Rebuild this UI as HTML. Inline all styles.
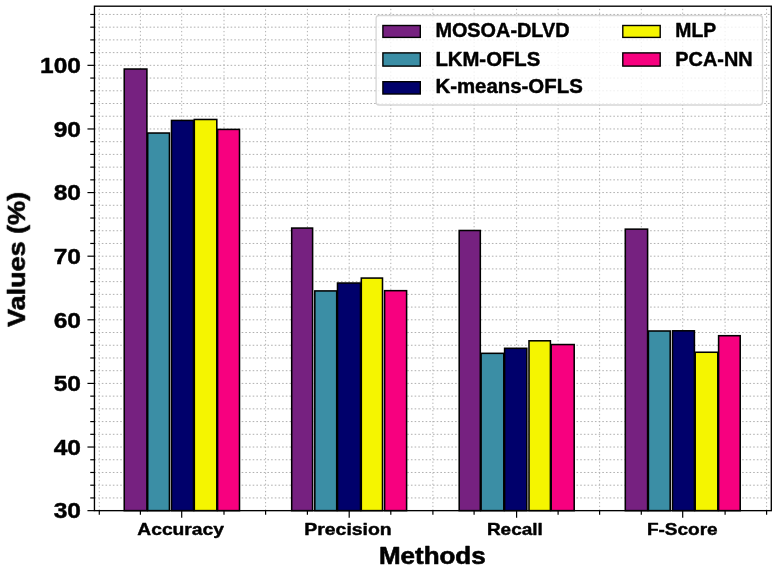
<!DOCTYPE html>
<html><head><meta charset="utf-8"><title>Chart</title>
<style>html,body{margin:0;padding:0;background:#fff;}body{width:779px;height:571px;overflow:hidden;font-family:"Liberation Sans",sans-serif;}svg{display:block}</style>
</head><body>
<svg width="779" height="571" viewBox="0 0 779 571">
<rect x="0" y="0" width="779" height="571" fill="#ffffff"/>
<g stroke="#b0b0b0" stroke-width="1" stroke-dasharray="1.3 2.38" fill="none">
<line x1="99.30" y1="510.65" x2="99.30" y2="6.2"/>
<line x1="140.40" y1="510.65" x2="140.40" y2="6.2"/>
<line x1="181.70" y1="510.65" x2="181.70" y2="6.2"/>
<line x1="224.00" y1="510.65" x2="224.00" y2="6.2"/>
<line x1="265.60" y1="510.65" x2="265.60" y2="6.2"/>
<line x1="307.40" y1="510.65" x2="307.40" y2="6.2"/>
<line x1="349.20" y1="510.65" x2="349.20" y2="6.2"/>
<line x1="390.80" y1="510.65" x2="390.80" y2="6.2"/>
<line x1="432.90" y1="510.65" x2="432.90" y2="6.2"/>
<line x1="474.10" y1="510.65" x2="474.10" y2="6.2"/>
<line x1="516.60" y1="510.65" x2="516.60" y2="6.2"/>
<line x1="558.10" y1="510.65" x2="558.10" y2="6.2"/>
<line x1="599.60" y1="510.65" x2="599.60" y2="6.2"/>
<line x1="641.30" y1="510.65" x2="641.30" y2="6.2"/>
<line x1="682.70" y1="510.65" x2="682.70" y2="6.2"/>
<line x1="725.10" y1="510.65" x2="725.10" y2="6.2"/>
<line x1="766.60" y1="510.65" x2="766.60" y2="6.2"/>
</g>
<g stroke="#b0b0b0" stroke-width="1" stroke-dasharray="1.6 2.08" fill="none">
<line x1="94.45" y1="497.93" x2="771.3" y2="497.93"/>
<line x1="94.45" y1="485.20" x2="771.3" y2="485.20"/>
<line x1="94.45" y1="472.48" x2="771.3" y2="472.48"/>
<line x1="94.45" y1="459.76" x2="771.3" y2="459.76"/>
<line x1="94.45" y1="447.03" x2="771.3" y2="447.03"/>
<line x1="94.45" y1="434.31" x2="771.3" y2="434.31"/>
<line x1="94.45" y1="421.59" x2="771.3" y2="421.59"/>
<line x1="94.45" y1="408.86" x2="771.3" y2="408.86"/>
<line x1="94.45" y1="396.14" x2="771.3" y2="396.14"/>
<line x1="94.45" y1="383.42" x2="771.3" y2="383.42"/>
<line x1="94.45" y1="370.70" x2="771.3" y2="370.70"/>
<line x1="94.45" y1="357.97" x2="771.3" y2="357.97"/>
<line x1="94.45" y1="345.25" x2="771.3" y2="345.25"/>
<line x1="94.45" y1="332.53" x2="771.3" y2="332.53"/>
<line x1="94.45" y1="319.80" x2="771.3" y2="319.80"/>
<line x1="94.45" y1="307.08" x2="771.3" y2="307.08"/>
<line x1="94.45" y1="294.36" x2="771.3" y2="294.36"/>
<line x1="94.45" y1="281.63" x2="771.3" y2="281.63"/>
<line x1="94.45" y1="268.91" x2="771.3" y2="268.91"/>
<line x1="94.45" y1="256.19" x2="771.3" y2="256.19"/>
<line x1="94.45" y1="243.46" x2="771.3" y2="243.46"/>
<line x1="94.45" y1="230.74" x2="771.3" y2="230.74"/>
<line x1="94.45" y1="218.02" x2="771.3" y2="218.02"/>
<line x1="94.45" y1="205.29" x2="771.3" y2="205.29"/>
<line x1="94.45" y1="192.57" x2="771.3" y2="192.57"/>
<line x1="94.45" y1="179.85" x2="771.3" y2="179.85"/>
<line x1="94.45" y1="167.13" x2="771.3" y2="167.13"/>
<line x1="94.45" y1="154.40" x2="771.3" y2="154.40"/>
<line x1="94.45" y1="141.68" x2="771.3" y2="141.68"/>
<line x1="94.45" y1="128.96" x2="771.3" y2="128.96"/>
<line x1="94.45" y1="116.23" x2="771.3" y2="116.23"/>
<line x1="94.45" y1="103.51" x2="771.3" y2="103.51"/>
<line x1="94.45" y1="90.79" x2="771.3" y2="90.79"/>
<line x1="94.45" y1="78.06" x2="771.3" y2="78.06"/>
<line x1="94.45" y1="65.34" x2="771.3" y2="65.34"/>
<line x1="94.45" y1="52.62" x2="771.3" y2="52.62"/>
<line x1="94.45" y1="39.89" x2="771.3" y2="39.89"/>
<line x1="94.45" y1="27.17" x2="771.3" y2="27.17"/>
<line x1="94.45" y1="14.45" x2="771.3" y2="14.45"/>
</g>
<g stroke="#000" stroke-width="1.55" stroke-linejoin="miter">
<rect x="124.25" y="69.03" width="22.65" height="441.62" fill="#762180"/>
<rect x="147.70" y="133.03" width="21.75" height="377.62" fill="#3b8ea5"/>
<rect x="171.50" y="120.43" width="22.00" height="390.22" fill="#00006b"/>
<rect x="194.30" y="119.48" width="22.50" height="391.17" fill="#f5f500"/>
<rect x="217.60" y="129.40" width="21.90" height="381.25" fill="#f7007f"/>
<rect x="291.70" y="228.07" width="20.90" height="282.58" fill="#762180"/>
<rect x="314.80" y="290.92" width="21.90" height="219.73" fill="#3b8ea5"/>
<rect x="337.50" y="283.03" width="23.00" height="227.62" fill="#00006b"/>
<rect x="361.30" y="278.07" width="21.20" height="232.58" fill="#f5f500"/>
<rect x="384.60" y="290.67" width="22.00" height="219.98" fill="#f7007f"/>
<rect x="459.20" y="230.49" width="21.10" height="280.16" fill="#762180"/>
<rect x="481.10" y="353.33" width="22.70" height="157.32" fill="#3b8ea5"/>
<rect x="504.60" y="348.30" width="22.20" height="162.35" fill="#00006b"/>
<rect x="529.00" y="340.80" width="21.40" height="169.85" fill="#f5f500"/>
<rect x="551.20" y="344.55" width="23.00" height="166.10" fill="#f7007f"/>
<rect x="625.30" y="229.15" width="22.30" height="281.50" fill="#762180"/>
<rect x="648.40" y="331.00" width="21.80" height="179.65" fill="#3b8ea5"/>
<rect x="672.50" y="330.81" width="21.90" height="179.84" fill="#00006b"/>
<rect x="695.20" y="352.25" width="22.60" height="158.40" fill="#f5f500"/>
<rect x="718.60" y="335.71" width="21.60" height="174.94" fill="#f7007f"/>
</g>
<g stroke="#000" stroke-width="1.2" fill="none">
<line x1="99.30" y1="510.65" x2="99.30" y2="514.85"/>
<line x1="140.40" y1="510.65" x2="140.40" y2="514.85"/>
<line x1="181.70" y1="510.65" x2="181.70" y2="517.65"/>
<line x1="224.00" y1="510.65" x2="224.00" y2="514.85"/>
<line x1="265.60" y1="510.65" x2="265.60" y2="514.85"/>
<line x1="307.40" y1="510.65" x2="307.40" y2="514.85"/>
<line x1="349.20" y1="510.65" x2="349.20" y2="517.65"/>
<line x1="390.80" y1="510.65" x2="390.80" y2="514.85"/>
<line x1="432.90" y1="510.65" x2="432.90" y2="514.85"/>
<line x1="474.10" y1="510.65" x2="474.10" y2="514.85"/>
<line x1="516.60" y1="510.65" x2="516.60" y2="517.65"/>
<line x1="558.10" y1="510.65" x2="558.10" y2="514.85"/>
<line x1="599.60" y1="510.65" x2="599.60" y2="514.85"/>
<line x1="641.30" y1="510.65" x2="641.30" y2="514.85"/>
<line x1="682.70" y1="510.65" x2="682.70" y2="517.65"/>
<line x1="725.10" y1="510.65" x2="725.10" y2="514.85"/>
<line x1="766.60" y1="510.65" x2="766.60" y2="514.85"/>
<line x1="94.45" y1="510.65" x2="87.45" y2="510.65"/>
<line x1="94.45" y1="497.93" x2="90.25" y2="497.93"/>
<line x1="94.45" y1="485.20" x2="90.25" y2="485.20"/>
<line x1="94.45" y1="472.48" x2="90.25" y2="472.48"/>
<line x1="94.45" y1="459.76" x2="90.25" y2="459.76"/>
<line x1="94.45" y1="447.03" x2="87.45" y2="447.03"/>
<line x1="94.45" y1="434.31" x2="90.25" y2="434.31"/>
<line x1="94.45" y1="421.59" x2="90.25" y2="421.59"/>
<line x1="94.45" y1="408.86" x2="90.25" y2="408.86"/>
<line x1="94.45" y1="396.14" x2="90.25" y2="396.14"/>
<line x1="94.45" y1="383.42" x2="87.45" y2="383.42"/>
<line x1="94.45" y1="370.70" x2="90.25" y2="370.70"/>
<line x1="94.45" y1="357.97" x2="90.25" y2="357.97"/>
<line x1="94.45" y1="345.25" x2="90.25" y2="345.25"/>
<line x1="94.45" y1="332.53" x2="90.25" y2="332.53"/>
<line x1="94.45" y1="319.80" x2="87.45" y2="319.80"/>
<line x1="94.45" y1="307.08" x2="90.25" y2="307.08"/>
<line x1="94.45" y1="294.36" x2="90.25" y2="294.36"/>
<line x1="94.45" y1="281.63" x2="90.25" y2="281.63"/>
<line x1="94.45" y1="268.91" x2="90.25" y2="268.91"/>
<line x1="94.45" y1="256.19" x2="87.45" y2="256.19"/>
<line x1="94.45" y1="243.46" x2="90.25" y2="243.46"/>
<line x1="94.45" y1="230.74" x2="90.25" y2="230.74"/>
<line x1="94.45" y1="218.02" x2="90.25" y2="218.02"/>
<line x1="94.45" y1="205.29" x2="90.25" y2="205.29"/>
<line x1="94.45" y1="192.57" x2="87.45" y2="192.57"/>
<line x1="94.45" y1="179.85" x2="90.25" y2="179.85"/>
<line x1="94.45" y1="167.13" x2="90.25" y2="167.13"/>
<line x1="94.45" y1="154.40" x2="90.25" y2="154.40"/>
<line x1="94.45" y1="141.68" x2="90.25" y2="141.68"/>
<line x1="94.45" y1="128.96" x2="87.45" y2="128.96"/>
<line x1="94.45" y1="116.23" x2="90.25" y2="116.23"/>
<line x1="94.45" y1="103.51" x2="90.25" y2="103.51"/>
<line x1="94.45" y1="90.79" x2="90.25" y2="90.79"/>
<line x1="94.45" y1="78.06" x2="90.25" y2="78.06"/>
<line x1="94.45" y1="65.34" x2="87.45" y2="65.34"/>
<line x1="94.45" y1="52.62" x2="90.25" y2="52.62"/>
<line x1="94.45" y1="39.89" x2="90.25" y2="39.89"/>
<line x1="94.45" y1="27.17" x2="90.25" y2="27.17"/>
<line x1="94.45" y1="14.45" x2="90.25" y2="14.45"/>
</g>
<rect x="94.45" y="6.2" width="676.85" height="504.45" fill="none" stroke="#000" stroke-width="1.35"/>
<g opacity="0.999">
<text x="81.0" y="518.40" font-size="22" font-family="Liberation Sans, sans-serif" font-weight="bold" stroke="#000" stroke-width="0.45" stroke-linejoin="round" text-anchor="end" textLength="27.3" lengthAdjust="spacingAndGlyphs">30</text>
<text x="81.0" y="454.78" font-size="22" font-family="Liberation Sans, sans-serif" font-weight="bold" stroke="#000" stroke-width="0.45" stroke-linejoin="round" text-anchor="end" textLength="27.3" lengthAdjust="spacingAndGlyphs">40</text>
<text x="81.0" y="391.17" font-size="22" font-family="Liberation Sans, sans-serif" font-weight="bold" stroke="#000" stroke-width="0.45" stroke-linejoin="round" text-anchor="end" textLength="27.3" lengthAdjust="spacingAndGlyphs">50</text>
<text x="81.0" y="327.55" font-size="22" font-family="Liberation Sans, sans-serif" font-weight="bold" stroke="#000" stroke-width="0.45" stroke-linejoin="round" text-anchor="end" textLength="27.3" lengthAdjust="spacingAndGlyphs">60</text>
<text x="81.0" y="263.94" font-size="22" font-family="Liberation Sans, sans-serif" font-weight="bold" stroke="#000" stroke-width="0.45" stroke-linejoin="round" text-anchor="end" textLength="27.3" lengthAdjust="spacingAndGlyphs">70</text>
<text x="81.0" y="200.32" font-size="22" font-family="Liberation Sans, sans-serif" font-weight="bold" stroke="#000" stroke-width="0.45" stroke-linejoin="round" text-anchor="end" textLength="27.3" lengthAdjust="spacingAndGlyphs">80</text>
<text x="81.0" y="136.71" font-size="22" font-family="Liberation Sans, sans-serif" font-weight="bold" stroke="#000" stroke-width="0.45" stroke-linejoin="round" text-anchor="end" textLength="27.3" lengthAdjust="spacingAndGlyphs">90</text>
<text x="81.0" y="73.09" font-size="22" font-family="Liberation Sans, sans-serif" font-weight="bold" stroke="#000" stroke-width="0.45" stroke-linejoin="round" text-anchor="end" textLength="40.9" lengthAdjust="spacingAndGlyphs">100</text>
<text x="137.3" y="535.4" font-size="17.1" font-family="Liberation Sans, sans-serif" font-weight="bold" stroke="#000" stroke-width="0.45" stroke-linejoin="round" textLength="86.7" lengthAdjust="spacingAndGlyphs">Accuracy</text>
<text x="304.3" y="535.4" font-size="17.1" font-family="Liberation Sans, sans-serif" font-weight="bold" stroke="#000" stroke-width="0.45" stroke-linejoin="round" textLength="87.4" lengthAdjust="spacingAndGlyphs">Precision</text>
<text x="486.9" y="535.4" font-size="17.1" font-family="Liberation Sans, sans-serif" font-weight="bold" stroke="#000" stroke-width="0.45" stroke-linejoin="round" textLength="56.0" lengthAdjust="spacingAndGlyphs">Recall</text>
<text x="646.9" y="535.4" font-size="17.1" font-family="Liberation Sans, sans-serif" font-weight="bold" stroke="#000" stroke-width="0.45" stroke-linejoin="round" textLength="70.8" lengthAdjust="spacingAndGlyphs">F-Score</text>
<text x="378.9" y="563.9" font-size="23.4" font-family="Liberation Sans, sans-serif" font-weight="bold" stroke="#000" stroke-width="0.6" stroke-linejoin="round" textLength="106.8" lengthAdjust="spacingAndGlyphs">Methods</text>
<text transform="translate(24.9,326.9) rotate(-90)" font-size="23.4" font-family="Liberation Sans, sans-serif" font-weight="bold" stroke="#000" stroke-width="0.6" stroke-linejoin="round" textLength="135.0" lengthAdjust="spacingAndGlyphs">Values (%)</text>
<rect x="376.1" y="15.5" width="386.4" height="89.5" rx="3" ry="3" fill="#ffffff" fill-opacity="0.8" stroke="#cccccc" stroke-opacity="0.8" stroke-width="1.3"/>
<rect x="382.9" y="25.5" width="37.4" height="11.9" fill="#762180" stroke="#000" stroke-width="1.4"/>
<text x="435.4" y="37.1" font-size="20.4" font-family="Liberation Sans, sans-serif" font-weight="bold" stroke="#000" stroke-width="0.45" stroke-linejoin="round" textLength="134.2" lengthAdjust="spacingAndGlyphs">MOSOA-DLVD</text>
<rect x="382.9" y="52.9" width="37.4" height="13.2" fill="#3b8ea5" stroke="#000" stroke-width="1.4"/>
<text x="435.4" y="65.8" font-size="20.4" font-family="Liberation Sans, sans-serif" font-weight="bold" stroke="#000" stroke-width="0.45" stroke-linejoin="round" textLength="104.9" lengthAdjust="spacingAndGlyphs">LKM-OFLS</text>
<rect x="382.9" y="81.7" width="37.4" height="12.3" fill="#00006b" stroke="#000" stroke-width="1.4"/>
<text x="435.4" y="93.3" font-size="20.4" font-family="Liberation Sans, sans-serif" font-weight="bold" stroke="#000" stroke-width="0.45" stroke-linejoin="round" textLength="147.4" lengthAdjust="spacingAndGlyphs">K-means-OFLS</text>
<rect x="622.8" y="25.5" width="37.4" height="11.9" fill="#f5f500" stroke="#000" stroke-width="1.4"/>
<text x="675.3" y="37.1" font-size="20.4" font-family="Liberation Sans, sans-serif" font-weight="bold" stroke="#000" stroke-width="0.45" stroke-linejoin="round" textLength="40.9" lengthAdjust="spacingAndGlyphs">MLP</text>
<rect x="622.8" y="52.9" width="37.4" height="13.2" fill="#f7007f" stroke="#000" stroke-width="1.4"/>
<text x="675.3" y="65.8" font-size="20.4" font-family="Liberation Sans, sans-serif" font-weight="bold" stroke="#000" stroke-width="0.45" stroke-linejoin="round" textLength="77.3" lengthAdjust="spacingAndGlyphs">PCA-NN</text>
</g>
</svg>
</body></html>
